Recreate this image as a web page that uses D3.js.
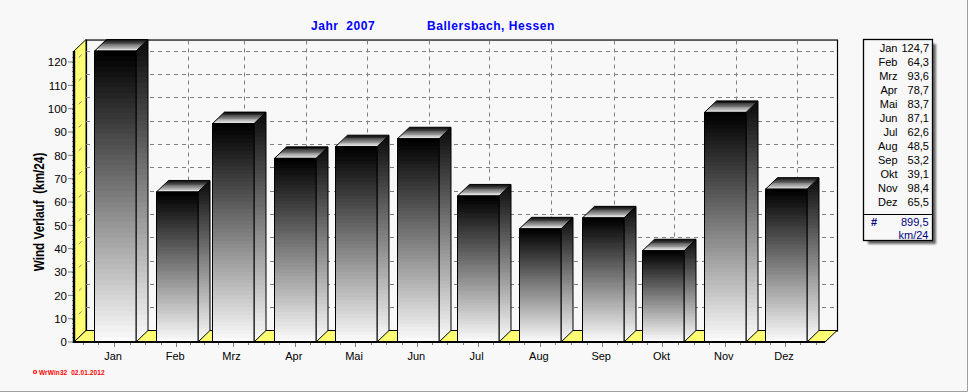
<!DOCTYPE html>
<html><head><meta charset="utf-8">
<script src="https://cdn.jsdelivr.net/npm/d3@7"></script>
<style>
html,body{margin:0;padding:0;background:#f8f8f8;overflow:hidden}
svg{display:block}
text{font-family:"Liberation Sans",Arial,sans-serif;white-space:pre}
</style></head><body>
<script>
const months=["Jan","Feb","Mrz","Apr","Mai","Jun","Jul","Aug","Sep","Okt","Nov","Dez"];
const values=[124.7,64.3,93.6,78.7,83.7,87.1,62.6,48.5,53.2,39.1,98.4,65.5];
const yTicks=[0,10,20,30,40,50,60,70,80,90,100,110,120];
const titleLeft="Jahr  2007";
const titleRight="Ballersbach, Hessen";
const yTitle="Wind Verlauf  (km/24)";
const footer="WrWin32  02.01.2012";
const sumLabel="899,5";
const unitLabel="km/24";

const W=968,H=392;
const svg=d3.select("body").append("svg").attr("width",W).attr("height",H);
const defs=svg.append("defs");
svg.append("rect").attr("width",W).attr("height",H).attr("fill","#f8f8f8");
svg.append("path").attr("d",`M967.5 0V391.5H0`).attr("fill","none").attr("stroke","#a0a0a0");

const dates=months.map((m,i)=>new Date(Date.UTC(2007,i,1)));
const x=d3.scaleUtc().domain([dates[0],dates[11]]).range([94,765]);
const y=d3.scaleLinear().domain([0,120]).range([342,62]);
const barW=41.5,dx=12,dy=11.5;
const x0=74,x1=825,y0=y(0),yTop=y(124.7);
const bx=i=>Math.floor(x(dates[i]));

function stepped(id,x1_,y1_,x2_,y2_,c0,c1,n){
  const g=defs.append("linearGradient").attr("id",id).attr("x1",x1_).attr("y1",y1_).attr("x2",x2_).attr("y2",y2_);
  const col=d3.interpolateRgb(c0,c1);
  d3.range(n).forEach(i=>{
    g.append("stop").attr("offset",i/n).attr("stop-color",col(i/(n-1)));
    g.append("stop").attr("offset",(i+1)/n).attr("stop-color",col(i/(n-1)));
  });
}
stepped("front",0,0,0,1,"#000000","#fafafa",56);
stepped("side",0,0,0,1,"#0c0c0c","#fafafa",56);
stepped("top",0,0,0,1,"#0a0a0a","#f0f0f0",14);

const yellow="#ffff73",grid="#808080";
// back wall
svg.append("rect").attr("x",x0+dx+.5).attr("y",yTop-dy+.5).attr("width",x1-x0).attr("height",y0-yTop)
  .attr("fill","#f8f8f8").attr("stroke","#000").attr("stroke-width",1.2);
// left wall
svg.append("polygon").attr("points",[[x0,yTop],[x0+dx,yTop-dy],[x0+dx,y0-dy],[x0,y0]].join(" "))
  .attr("fill",yellow).attr("stroke","#000").attr("stroke-width",1);
// grid
const g=svg.append("g").attr("stroke",grid).attr("fill","none");
yTicks.slice(1).forEach(v=>{
  const gy=Math.round(y(v)-dy)+.5;
  g.append("line").attr("x1",x0+dx).attr("x2",x1+dx).attr("y1",gy).attr("y2",gy).attr("stroke-dasharray","4 4");
  g.append("line").attr("x1",x0).attr("x2",x0+dx).attr("y1",y(v)).attr("y2",y(v)-dy).attr("stroke-dasharray","0 6.5 4 20");
});
dates.forEach((d,i)=>{
  const vx=bx(i)+32.5;
  g.append("line").attr("x1",vx).attr("x2",vx).attr("y1",yTop-dy+1).attr("y2",y0-dy).attr("stroke-dasharray","4 4");
});
// floor
svg.append("polygon").attr("points",[[x0,y0],[x0+dx,y0-dy],[x1+dx,y0-dy],[x1,y0]].join(" "))
  .attr("fill",yellow).attr("stroke","#000").attr("stroke-width",1);
// bars
const bars=svg.append("g").selectAll("g").data(values).join("g");
const pts=a=>a.map(p=>p.join(",")).join(" ");
bars.append("polygon").attr("fill","url(#side)").attr("stroke","#000").attr("stroke-width",1)
  .attr("points",(v,i)=>{const a=bx(i)+barW+.5,t=y(v);return pts([[a,t],[a+dx,t-dy],[a+dx,y0-dy],[a,y0]]);});
bars.append("polygon").attr("fill","url(#top)").attr("stroke","#000").attr("stroke-width",1)
  .attr("points",(v,i)=>{const a=bx(i)+.5,t=y(v);return pts([[a,t],[a+dx,t-dy],[a+barW+dx,t-dy],[a+barW,t]]);});
bars.append("rect").attr("fill","url(#front)").attr("stroke","#000").attr("stroke-width",1)
  .attr("x",(v,i)=>bx(i)+.5).attr("y",v=>y(v)).attr("width",barW).attr("height",v=>y0-y(v));

// y axis
const ax=svg.append("g").attr("transform",`translate(${x0-5},0)`)
  .call(d3.axisLeft(y).tickValues(yTicks).tickSize(0).tickPadding(2));
ax.select(".domain").remove();
ax.selectAll("text").attr("font-size",11.5).attr("fill","#000").style("font-family",'"Liberation Sans",Arial,sans-serif');
const tk=svg.append("g").attr("stroke",grid);
yTicks.forEach(v=>tk.append("line").attr("x1",x0-6).attr("x2",x0).attr("y1",y(v)).attr("y2",y(v)));
d3.range(0,124,2).forEach(v=>tk.append("line").attr("x1",x0-2).attr("x2",x0).attr("y1",Math.round(y(v))+.5).attr("y2",Math.round(y(v))+.5));
svg.append("line").attr("x1",x0).attr("x2",x0).attr("y1",yTop).attr("y2",y0+1).attr("stroke","#000").attr("stroke-width",2.4);

// x ticks
dates.forEach((d,i)=>{
  const next=i<11?x(dates[i+1]):x(dates[11])+61;
  const step=(next-x(d))/4, c=x(d)+20;
  const ks=i===0?[-2,-1,0,1,2,3]:[0,1,2,3];
  ks.filter(k=>c+k*step<x1-8).forEach(k=>{
    const tx=Math.round(c+k*step)+.5;
    tk.append("line").attr("x1",tx).attr("x2",tx).attr("y1",y0).attr("y2",y0+(k===0?5:3));
  });
});
svg.append("line").attr("x1",x0).attr("x2",x1).attr("y1",y0).attr("y2",y0).attr("stroke","#000").attr("stroke-width",2);

// x labels
svg.append("g").selectAll("text").data(months).join("text")
  .attr("x",(m,i)=>x(dates[i])+19).attr("y",360).attr("text-anchor","middle").attr("font-size",11).text(d=>d);

// titles
const tt=svg.append("g").attr("fill","#0000ff").attr("font-size",12).attr("font-weight","bold").attr("letter-spacing",.55);
tt.append("text").attr("x",311).attr("y",30).text(titleLeft);
tt.append("text").attr("x",427).attr("y",30).text(titleRight);
svg.append("text").attr("transform","translate(44,212) rotate(-90) scale(.84,1)").attr("text-anchor","middle")
  .attr("font-size",14).attr("font-weight","bold").text(yTitle);
svg.append("circle").attr("cx",35).attr("cy",372).attr("r",1.5).attr("fill","none").attr("stroke","#f00").attr("stroke-width",1.2);
svg.append("text").attr("x",39).attr("y",374.5).attr("fill","#f00").attr("font-size",6.5).attr("font-weight","bold").attr("letter-spacing",.1).text(footer);

// legend
const blur=defs.append("filter").attr("id","sh").attr("x","-10%").attr("y","-10%").attr("width","120%").attr("height","120%");
blur.append("feGaussianBlur").attr("stdDeviation",1.2);
svg.append("rect").attr("x",868).attr("y",44).attr("width",68).attr("height",200).attr("fill","#666").attr("filter","url(#sh)");
svg.append("rect").attr("x",863.5).attr("y",39.5).attr("width",69).attr("height",201).attr("fill","#f8f8f8").attr("stroke","#000").attr("stroke-width",1.3);
svg.append("line").attr("x1",864).attr("x2",932).attr("y1",214.5).attr("y2",214.5).attr("stroke","#000");
const fmt=d3.formatLocale({decimal:",",thousands:".",grouping:[3],currency:["",""]}).format(".1f");
const rowY=d3.scaleLinear().domain([0,11]).range([52,206]);
const lg=svg.append("g").attr("font-size",11).attr("text-anchor","end");
months.forEach((m,i)=>{
  lg.append("text").attr("x",897.5).attr("y",rowY(i)).text(m);
  lg.append("text").attr("x",929).attr("y",rowY(i)).text(fmt(values[i]));
});
const lf=svg.append("g").attr("font-size",11).attr("fill","#000080");
lf.append("text").attr("x",871).attr("y",226).attr("font-weight","bold").text("#");
lf.append("text").attr("x",928.5).attr("y",226).attr("text-anchor","end").text(sumLabel);
lf.append("text").attr("x",928.5).attr("y",239).attr("text-anchor","end").text(unitLabel);
</script>
</body></html>
